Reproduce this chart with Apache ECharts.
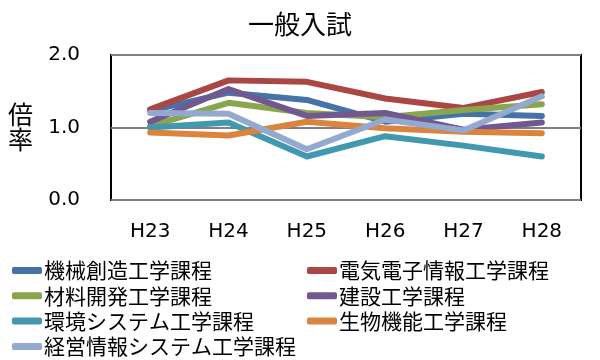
<!DOCTYPE html>
<html><head><meta charset="utf-8">
<script src="https://cdn.jsdelivr.net/npm/echarts@6/dist/echarts.min.js"></script>
<style>html,body{margin:0;padding:0;background:#fff}#c{width:600px;height:360px}</style>
</head><body><div id="c"></div>
<script>
const categories = ['H23','H24','H25','H26','H27','H28'];
const yTicks = [0, 1, 2];
const seriesNames = ['機械創造工学課程','電気電子情報工学課程','材料開発工学課程','建設工学課程','環境システム工学課程','生物機能工学課程','経営情報システム工学課程'];
const kikai   = [1.23, 1.48, 1.38, 1.08, 1.19, 1.16];
const denki   = [1.25, 1.65, 1.63, 1.40, 1.27, 1.49];
const zairyo  = [1.02, 1.34, 1.20, 1.14, 1.24, 1.32];
const kensetsu= [1.08, 1.53, 1.16, 1.20, 0.97, 1.07];
const kankyo  = [1.00, 1.07, 0.60, 0.88, 0.75, 0.60];
const seibutsu= [0.93, 0.89, 1.08, 0.99, 0.94, 0.92];
const keiei   = [1.20, 1.19, 0.70, 1.11, 0.96, 1.43];
const seriesData = [kikai, denki, zairyo, kensetsu, kankyo, seibutsu, keiei];
const colors = ['#4572A7','#AA4643','#89A54E','#71588F','#4198AF','#DB843D','#93A9CF'];

const FONT = '"Noto Sans CJK JP", "Noto Sans", sans-serif';
const NUMFONT = '"DejaVu Sans", sans-serif';
const chart = echarts.init(document.getElementById('c'), null, {renderer:'canvas'});
const legendCommon = {
  orient: 'vertical', itemWidth: 30, itemHeight: 7, itemGap: 4.3, icon: 'roundRect',
  textStyle: {fontFamily: FONT, fontSize: 21, color: '#000', lineHeight: 21, padding: [0,0,0,-3]},
  padding: 0
};
chart.setOption({
  animation: false,
  color: colors,
  title: {text: '一般入試', left: 'center', top: 6, textStyle: {fontFamily: FONT, fontSize: 26, fontWeight: 'normal', color: '#000'}},
  graphic: [{type: 'text', left: 8, top: 102, style: {text: '倍\n率', font: '25px ' + FONT, lineHeight: 25, fill: '#000'}}],
  grid: {left: 111, right: 19, top: 55, bottom: 160, show: true, borderColor: '#000', borderWidth: 2, backgroundColor: 'transparent'},
  legend: [
    Object.assign({left: 12, top: 260, data: [seriesNames[0], seriesNames[2], seriesNames[4], seriesNames[6]]}, legendCommon),
    Object.assign({left: 307, top: 260, data: [seriesNames[1], seriesNames[3], seriesNames[5]]}, legendCommon)
  ],
  xAxis: {
    type: 'category', data: categories, boundaryGap: true,
    axisLine: {show: false}, axisTick: {show: false},
    axisLabel: {fontFamily: NUMFONT, fontSize: 20, color: '#000', margin: 22}
  },
  yAxis: {
    type: 'value', min: yTicks[0], max: yTicks[yTicks.length-1], interval: 1,
    axisLine: {show: false}, axisTick: {show: false},
    axisLabel: {fontFamily: NUMFONT, fontSize: 20, color: '#000', margin: 31, formatter: v => v.toFixed(1)},
    splitLine: {show: true, lineStyle: {color: '#808080', width: 2}}
  },
  series: seriesNames.map((n, i) => ({
    name: n, type: 'line', data: seriesData[i], symbol: 'none', smooth: false,
    lineStyle: {width: 6, color: colors[i], cap: 'round', join: 'round'},
    itemStyle: {color: colors[i]}
  }))
});
</script></body></html>
